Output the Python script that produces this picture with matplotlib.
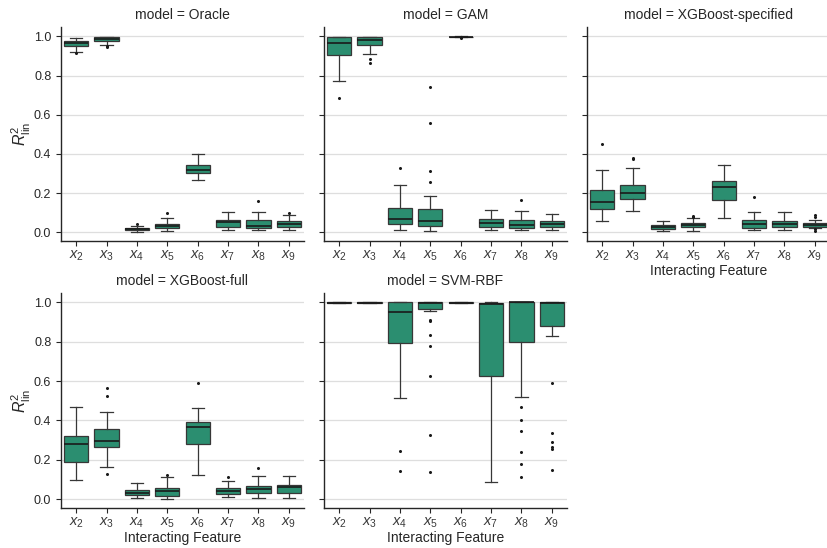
import matplotlib
matplotlib.use("Agg")
import matplotlib.pyplot as plt

features = ['$x_2$', '$x_3$', '$x_4$', '$x_5$', '$x_6$', '$x_7$', '$x_8$', '$x_9$']
models = ['Oracle', 'GAM', 'XGBoost-specified', 'XGBoost-full', 'SVM-RBF']

# per feature: [whislo, q1, median, q3, whishi]
oracle_box = [
    [0.922, 0.952, 0.964, 0.978, 0.992],
    [0.957, 0.978, 0.986, 0.995, 0.998],
    [0.003, 0.009, 0.014, 0.020, 0.034],
    [0.007, 0.019, 0.032, 0.043, 0.070],
    [0.269, 0.303, 0.316, 0.344, 0.400],
    [0.012, 0.024, 0.051, 0.061, 0.104],
    [0.010, 0.022, 0.034, 0.063, 0.104],
    [0.010, 0.024, 0.043, 0.058, 0.090],
]
oracle_fliers = [[0.915], [0.946, 0.950], [0.040], [0.097], [], [], [0.160], [0.100]]

gam_box = [
    [0.774, 0.906, 0.966, 0.998, 0.999],
    [0.908, 0.957, 0.983, 0.998, 0.999],
    [0.012, 0.041, 0.066, 0.126, 0.241],
    [0.007, 0.031, 0.058, 0.119, 0.187],
    [0.995, 0.997, 0.998, 0.999, 1.000],
    [0.012, 0.026, 0.049, 0.066, 0.111],
    [0.012, 0.022, 0.037, 0.061, 0.109],
    [0.012, 0.024, 0.041, 0.058, 0.095],
]
gam_fliers = [[0.684], [0.886, 0.866], [0.327], [0.740, 0.558, 0.311, 0.257],
              [0.993], [], [0.163], []]

xgb_spec_box = [
    [0.059, 0.117, 0.155, 0.216, 0.318],
    [0.110, 0.167, 0.202, 0.240, 0.327],
    [0.006, 0.015, 0.025, 0.036, 0.059],
    [0.006, 0.024, 0.036, 0.046, 0.070],
    [0.071, 0.165, 0.233, 0.260, 0.342],
    [0.012, 0.020, 0.044, 0.061, 0.104],
    [0.012, 0.024, 0.041, 0.058, 0.102],
    [0.019, 0.029, 0.039, 0.048, 0.061],
]
xgb_spec_fliers = [[0.451], [0.379, 0.376], [], [0.083, 0.077], [], [0.182], [],
                   [0.088, 0.080, 0.015, 0.007]]

xgb_full_box = [
    [0.097, 0.191, 0.282, 0.321, 0.468],
    [0.164, 0.266, 0.295, 0.357, 0.444],
    [0.007, 0.019, 0.031, 0.044, 0.082],
    [0.003, 0.017, 0.041, 0.056, 0.111],
    [0.123, 0.280, 0.365, 0.394, 0.461],
    [0.012, 0.027, 0.039, 0.055, 0.092],
    [0.005, 0.032, 0.051, 0.068, 0.118],
    [0.007, 0.029, 0.060, 0.072, 0.118],
]
xgb_full_fliers = [[], [0.565, 0.522, 0.130], [], [0.123], [0.592], [0.111], [0.159], []]

svm_box = [
    [0.996, 0.998, 0.999, 1.000, 1.000],
    [0.997, 0.998, 0.999, 1.000, 1.000],
    [0.514, 0.794, 0.949, 1.000, 1.000],
    [0.955, 0.968, 0.998, 1.000, 1.000],
    [0.997, 0.998, 0.999, 1.000, 1.000],
    [0.085, 0.624, 0.993, 0.999, 1.000],
    [0.520, 0.799, 1.000, 1.000, 1.000],
    [0.830, 0.879, 0.997, 1.000, 1.000],
]
svm_fliers = [[], [], [0.247, 0.141], [0.913, 0.905, 0.833, 0.779, 0.627, 0.324, 0.138],
              [], [], [0.468, 0.404, 0.346, 0.240, 0.177, 0.111],
              [0.591, 0.336, 0.288, 0.264, 0.257, 0.146]]

all_boxes = [oracle_box, gam_box, xgb_spec_box, xgb_full_box, svm_box]
all_fliers = [oracle_fliers, gam_fliers, xgb_spec_fliers, xgb_full_fliers, svm_fliers]

plt.rcParams['font.family'] = ['Liberation Sans', 'DejaVu Sans']
plt.rcParams['mathtext.fontset'] = 'custom'
plt.rcParams['mathtext.rm'] = 'Liberation Sans'
plt.rcParams['mathtext.it'] = 'Liberation Sans:italic'
plt.rcParams['text.color'] = '#262626'
plt.rcParams['axes.labelcolor'] = '#262626'
plt.rcParams['xtick.color'] = '#262626'
plt.rcParams['ytick.color'] = '#262626'

box_color = '#2b8e70'
line_color = '#373737'

W, H = 827, 548
fig = plt.figure(figsize=(W / 100, H / 100), dpi=100)

lefts = [61, 324, 587]
rows = [(27, 241), (293, 508)]
pw = 243


def make_stats(box, fliers):
    stats = []
    for b, f in zip(box, fliers):
        stats.append(dict(whislo=b[0], q1=b[1], med=b[2], q3=b[3], whishi=b[4], fliers=f))
    return stats


for i, model in enumerate(models):
    r, c = divmod(i, 3)
    top, bot = rows[r]
    ax = fig.add_axes([lefts[c] / W, 1 - bot / H, pw / W, (bot - top) / H])
    ax.yaxis.grid(True, color='#dedede', linewidth=0.9, zorder=0)
    ax.set_axisbelow(True)
    ax.bxp(make_stats(all_boxes[i], all_fliers[i]), positions=range(len(features)),
           widths=0.8, patch_artist=True, manage_ticks=False,
           boxprops=dict(facecolor=box_color, edgecolor=line_color, linewidth=0.9),
           medianprops=dict(color='#1a1a1a', linewidth=1.2),
           whiskerprops=dict(color=line_color, linewidth=0.9),
           capprops=dict(color=line_color, linewidth=0.9),
           flierprops=dict(marker='o', markersize=1.2, markerfacecolor='#1a1a1a',
                           markeredgecolor='#1a1a1a'))
    ax.set_xlim(-0.5, len(features) - 0.5)
    ax.set_ylim(-0.045, 1.048)
    ax.set_xticks(range(len(features)))
    ax.set_xticklabels(features)
    ax.set_yticks([0.0, 0.2, 0.4, 0.6, 0.8, 1.0])
    ax.tick_params(axis='both', length=3.5, width=0.8, labelsize=9)
    ax.tick_params(axis='x', labelsize=10.5, pad=2, labelcolor='#3a3a3a')
    for s in ['top', 'right']:
        ax.spines[s].set_visible(False)
    for s in ['left', 'bottom']:
        ax.spines[s].set_linewidth(1.0)
        ax.spines[s].set_color('#262626')
    ax.set_title(f'model = {model}', fontsize=10)
    if c == 0:
        ax.set_yticklabels(['0.0', '0.2', '0.4', '0.6', '0.8', '1.0'])
        ax.set_ylabel('$R^2_{\\mathrm{lin}}$', fontsize=11.5, labelpad=1)
    else:
        ax.set_yticklabels([])
    if r == 1 or c == 2:
        ax.set_xlabel('Interacting Feature', fontsize=10, labelpad=1)

fig.savefig('out.png', dpi=100)
